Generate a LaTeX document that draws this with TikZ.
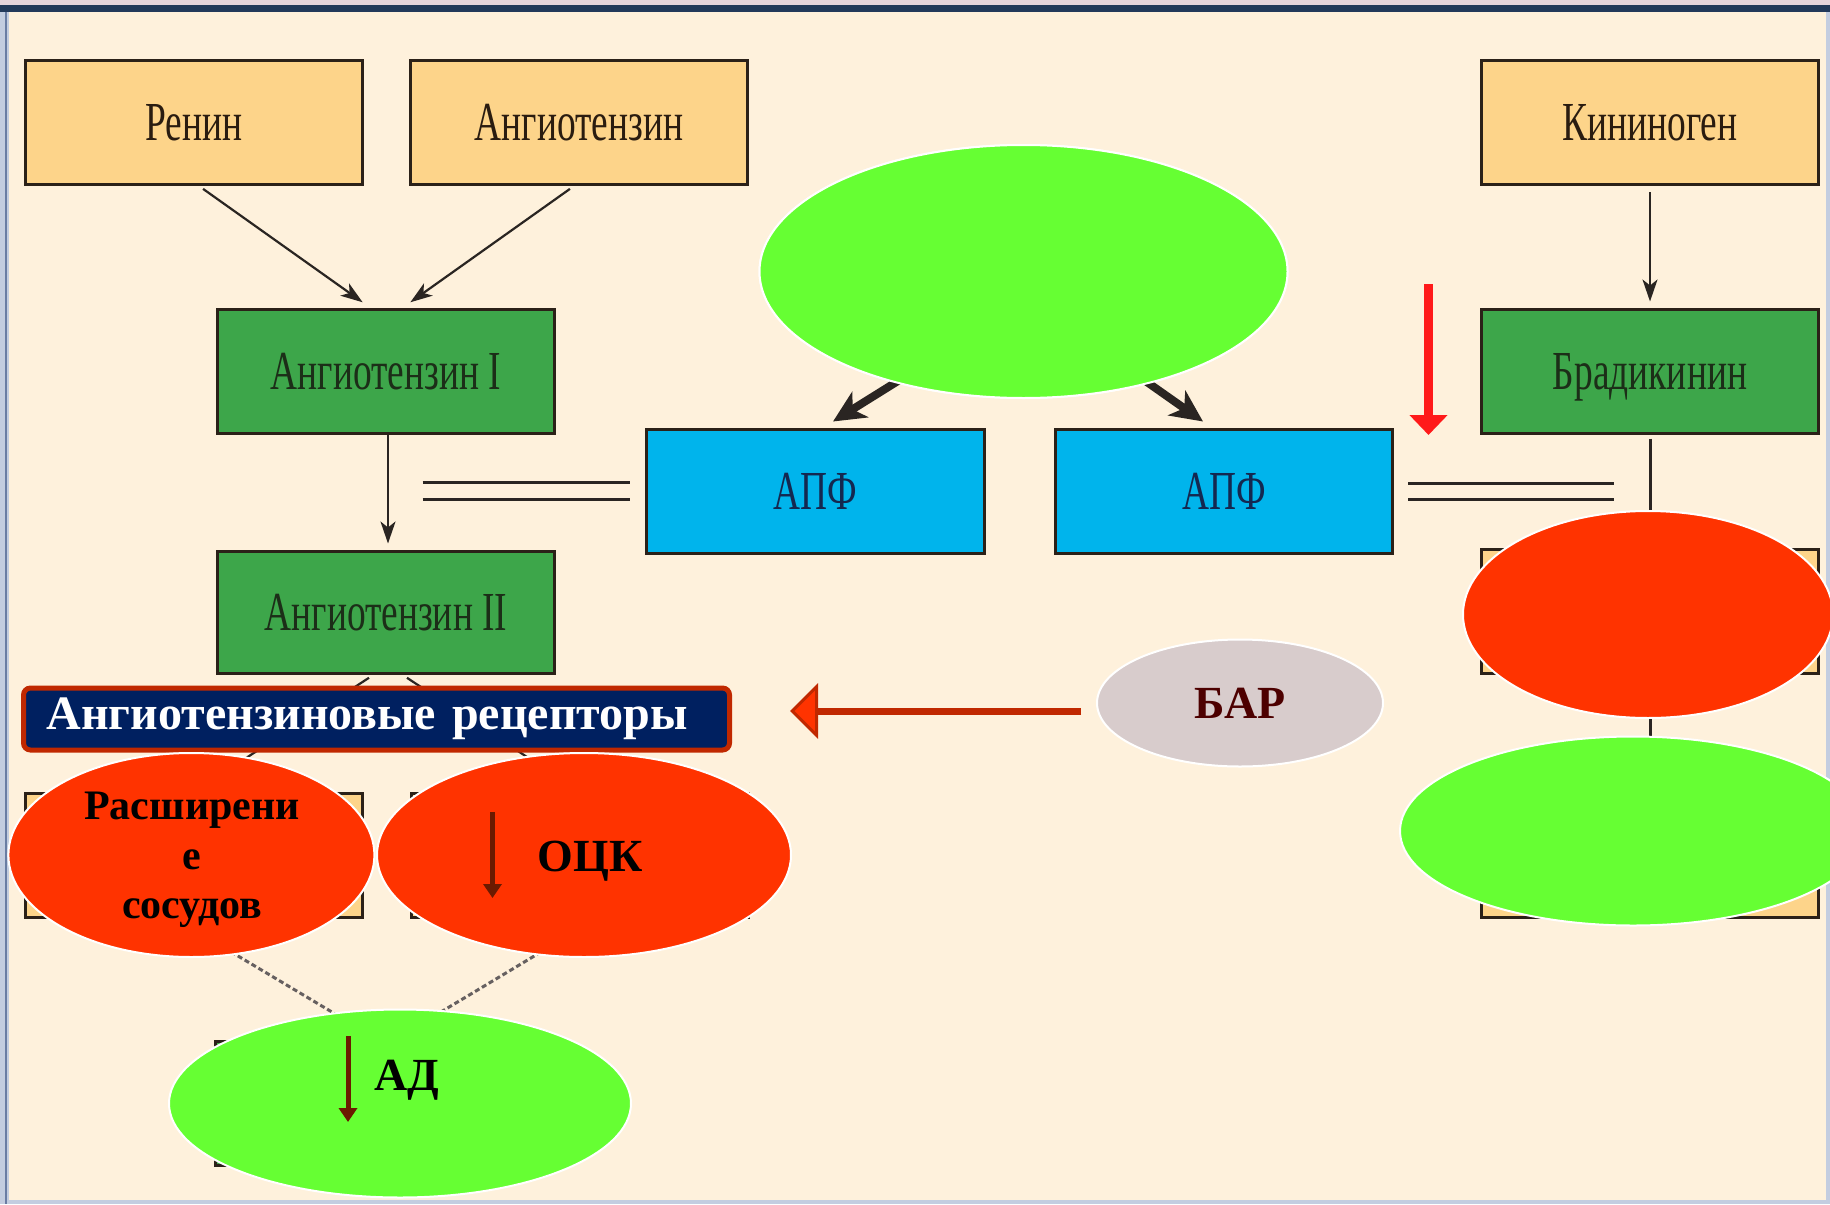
\documentclass[tikz,border=0pt]{standalone}
\usepackage{fontspec}
\setmainfont{Liberation Serif}
\newfontfamily\condfont[FakeStretch=0.68]{Liberation Serif}
\usetikzlibrary{shapes.geometric,arrows.meta,calc}
\definecolor{cream}{HTML}{FEF1DC}
\definecolor{framelight}{HTML}{C3CDE0}
\definecolor{topbar}{HTML}{22395A}
\definecolor{toppink}{HTML}{E6D4DC}
\definecolor{leftline}{HTML}{6A7DA3}
\definecolor{boxyellow}{HTML}{FDD48A}
\definecolor{boxgreen}{HTML}{3DA64A}
\definecolor{boxblue}{HTML}{00B4EC}
\definecolor{boxline}{HTML}{2B2118}
\definecolor{txtbrown}{HTML}{2A1C10}
\definecolor{txtgreen}{HTML}{1C2E18}
\definecolor{txtblue}{HTML}{142850}
\definecolor{arrowdark}{HTML}{2A2522}
\definecolor{ellgreen}{HTML}{66FF33}
\definecolor{ellred}{HTML}{FF3300}
\definecolor{ellgray}{HTML}{D8CCCC}
\definecolor{navy}{HTML}{002060}
\definecolor{bannerred}{HTML}{C02800}
\definecolor{bartext}{HTML}{4D0000}
\definecolor{brightred}{HTML}{FF1A1A}
\definecolor{maroon}{HTML}{6B1A00}
\definecolor{dashgray}{HTML}{666060}
\begin{document}
\begin{tikzpicture}[x=1pt,y=-1pt,
  box/.style={draw=boxline, line width=3pt, minimum width=337pt, minimum height=124pt,
    inner sep=0pt, text height=36pt, text depth=0pt, font=\condfont\fontsize{55}{60}\selectfont},
  ybox/.style={box, fill=boxyellow, text=txtbrown},
  gbox/.style={box, fill=boxgreen, text=txtgreen},
  bbox/.style={box, fill=boxblue, text=txtblue},
  ell/.style={ellipse, draw=white, line width=2pt, inner sep=0pt},
  thinarrow/.style={-{Stealth[length=22pt,width=15pt,inset=6pt]}, line width=2.2pt, draw=arrowdark},
  thickarrow/.style={-{Stealth[length=32pt,width=30pt,inset=9pt]}, line width=8pt, draw=arrowdark},
  plainline/.style={line width=3pt, draw=arrowdark},
  dashline/.style={line width=3pt, draw=dashgray, dash pattern=on 5pt off 3pt},
  downarrow/.style={-{Triangle[length=14pt,width=18pt]}, line width=5pt, draw=maroon},
  boldtxt/.style={font=\bfseries\fontsize{42}{49.5}\selectfont, text=black, align=center, inner sep=0pt},
]
\useasboundingbox (0,0) rectangle (1830,1204);
\clip (0,0) rectangle (1830,1204);
% frame and background
\fill[framelight] (0,0) rectangle (1830,1204);
\fill[cream] (9,12) rectangle (1826,1200);
\fill[toppink] (0,0) rectangle (1830,5);
\fill[topbar] (0,5) rectangle (1830,12);
\draw[leftline, line width=2pt] (6,12) -- (6,1204);

% boxes (some later covered by the ovals)
\node[ybox] (renin) at (194,122.5) {Ренин};
\node[ybox] (angio) at (579,122.5) {Ангиотензин};
\node[ybox] (kinin) at (1650,122.5) {Кининоген};
\node[gbox] (at1) at (386,371) {Ангиотензин I};
\node[gbox] (brad) at (1650,371) {Брадикинин};
\node[bbox, minimum width=338pt] (apf1) at (815,491.5) {АПФ};
\node[bbox] (apf2) at (1224,491.5) {АПФ};
\node[gbox, minimum height=122pt] (at2) at (386,612) {Ангиотензин II};
\node[ybox] (hb1) at (194,855.5) {};
\node[ybox] (hb2) at (580,855.5) {};
\node[gbox] (hb3) at (384,1103) {};
\node[ybox] (hr1) at (1650,611.5) {};
\node[ybox] (hr2) at (1650,855.5) {};

% connectors
\draw[thinarrow, shorten <=5pt, shorten >=9pt] ([xshift=5pt]renin.south) -- ([xshift=-16pt]at1.north);
\draw[thinarrow, shorten <=5pt, shorten >=9pt] ([xshift=-5pt]angio.south) -- ([xshift=17pt]at1.north);
\draw[thinarrow, shorten >=6pt] ([xshift=2pt]at1.south) -- ([xshift=2pt]at2.north);
\draw[thinarrow, shorten <=6pt, shorten >=6pt] (kinin.south) -- (brad.north);
\draw[plainline, shorten <=4pt] (brad.south) -- (hr1.north);
\draw[plainline] (hr1.south) -- (hr2.north);
\draw[thinarrow, shorten <=6pt] ([xshift=-12pt]at2.south) -- (hb1.north);
\draw[thinarrow, shorten <=6pt] ([xshift=16pt]at2.south) -- (hb2.north);
\draw[dashline] ([xshift=-18pt]hb1.south) -- ([xshift=-6pt]hb3.north);
\draw[dashline] ([xshift=16pt]hb2.south) -- ([xshift=11pt]hb3.north);

% inhibition double lines
\coordinate (dla1) at (422.5,482);  \coordinate (dla2) at (630,482);
\coordinate (dlb1) at (422.5,499.5); \coordinate (dlb2) at (630,499.5);
\coordinate (dra1) at (1408,483);   \coordinate (dra2) at (1614,483);
\coordinate (drb1) at (1408,499.5); \coordinate (drb2) at (1614,499.5);
\draw[plainline] (dla1) -- (dla2);
\draw[plainline] (dlb1) -- (dlb2);
\draw[plainline] (dra1) -- (dra2);
\draw[plainline] (drb1) -- (drb2);

% thick arrows from the top oval to the two ACE boxes
\node[ell, fill=ellgreen, minimum width=528pt, minimum height=253pt] (topell) at (1023.5,271.5) {};
\draw[thickarrow] ($(topell.center)+(-93.5,89.5)$) -- ($(apf1.north)+(18,-6.5)$);
\draw[thickarrow] ($(topell.center)+(93.5,89.5)$) -- ($(apf2.north)+(-21,-6.5)$);
\node[ell, fill=ellgreen, minimum width=528pt, minimum height=253pt] at (topell.center) {};

% red down arrow
\coordinate (rda) at (1428.5,284);
\coordinate (rdb) at (1428.5,435);
\draw[-{Triangle[length=20pt,width=37pt]}, line width=9pt, draw=brightred] (rda) -- (rdb);

% receptor banner
\node[draw=bannerred, line width=5pt, fill=navy, rounded corners=7pt,
  minimum height=62pt, text width=660pt, inner xsep=23pt, inner ysep=0pt, align=left,
  text=white, font=\bfseries\fontsize{48}{50}\selectfont] (banner) at (376.5,719) {Ангиотензиновые рецепторы};

% BAR oval and arrow
\node[ell, fill=ellgray, minimum width=286pt, minimum height=127pt,
  font=\bfseries\fontsize{46}{50}\selectfont, text=bartext] (bar) at (1240,703) {БАР};
\coordinate (bartip) at (790,711);
\draw[-{Triangle[length=28pt,width=55pt,fill=ellred,line width=3pt]}, line width=7pt, draw=bannerred,
  shorten <=15pt] ([yshift=-8pt]bar.west) -- (bartip);

% ovals covering lower boxes
\node[ell, fill=ellred, minimum width=366pt, minimum height=204pt] (ovdil) at (191.4,855) {};
\node[ell, fill=ellred, minimum width=414pt, minimum height=204pt] (ovock) at (584,855) {};
\node[ell, fill=ellgreen, minimum width=462pt, minimum height=188pt] (ovad) at (400,1103.5) {};
\node[ell, fill=ellred, minimum width=370pt, minimum height=207pt] (ovr1) at (1648,614.5) {};
\node[ell, fill=ellgreen, minimum width=466pt, minimum height=189pt] (ovr2) at (1633,831) {};

% oval texts
\node[boldtxt] (tdil) at (192,860) {Расширени\\е\\сосудов};
\node[boldtxt, font=\bfseries\fontsize{46}{50}\selectfont] (tock) at (590,861) {ОЦК};
\node[boldtxt, font=\bfseries\fontsize{46}{50}\selectfont] (tad) at (407,1080) {АД};
\coordinate (oa1) at (492.5,812); \coordinate (oa2) at (492.5,898);
\coordinate (aa1) at (348,1036);  \coordinate (aa2) at (348,1122);
\draw[downarrow] (oa1) -- (oa2);
\draw[downarrow] (aa1) -- (aa2);
\end{tikzpicture}
\end{document}
